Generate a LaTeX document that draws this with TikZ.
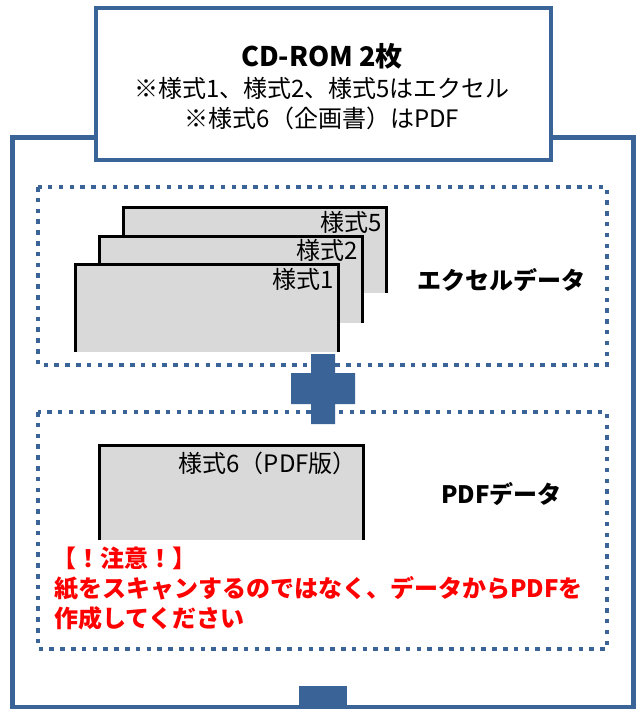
\documentclass[tikz,border=0pt]{standalone}
\usepackage{fontspec}
\setmainfont{Noto Sans CJK JP}
\definecolor{frameblue}{HTML}{3A6397}
\definecolor{sheetgray}{HTML}{D9D9D9}
\definecolor{alertred}{HTML}{FF0000}
\begin{document}
\begin{tikzpicture}[x=1pt,y=-1pt,
  framebox/.style={draw=frameblue,line width=4.5pt},
  dotbox/.style={draw=frameblue,line width=4pt,dash pattern=on 4.5pt off 6.3pt},
  sheetfill/.style={fill=sheetgray},
  sheetedge/.style={draw=black,line width=3pt},
  txt/.style={inner sep=0pt,font=\fontsize{24}{30}\selectfont},
  boldtxt/.style={inner sep=0pt,font=\fontsize{24}{30}\selectfont\bfseries},
  redtxt/.style={inner sep=0pt,align=left,text=alertred,font=\fontsize{24}{30}\selectfont\bfseries}
]
\useasboundingbox (0,0) rectangle (637,709);
% outer frame
\draw[framebox] (12.5,137.5) rectangle (633.5,707);
% CD-ROM box
\draw[framebox,fill=white] (96,8) rectangle (551,160);
\node[boldtxt,font=\fontsize{27}{30}\selectfont\bfseries] (title) at (322,56) {CD-ROM 2枚};
\node[txt] (line2) at (322,88) {※様式1、様式2、様式5はエクセル};
\node[txt] (line3) at (322,118) {※様式6（企画書）はPDF};
% dotted boxes
\draw[dotbox] (38,187) rectangle (607,365);
\draw[dotbox] (38,412) rectangle (607,649);
% sheets (Excel)
\fill[sheetfill] (122,206) rectangle (388,293);
\draw[sheetedge] (123.5,293) -- (123.5,207.5) -- (386.5,207.5) -- (386.5,293);
\node[txt,anchor=east] (s5) at (382,222) {様式5};
\fill[sheetfill] (98,235) rectangle (364,323);
\draw[sheetedge] (99.5,323) -- (99.5,236.5) -- (362.5,236.5) -- (362.5,323);
\node[txt,anchor=east] (s2) at (358,250) {様式2};
\fill[sheetfill] (74,263) rectangle (340,352);
\draw[sheetedge] (75.5,352) -- (75.5,264.5) -- (338.5,264.5) -- (338.5,352);
\node[txt,anchor=east] (s1) at (334,279) {様式1};
\node[boldtxt,anchor=west] (excel) at (417,280) {エクセルデータ};
% PDF sheet
\fill[sheetfill] (98,444) rectangle (365,540);
\draw[sheetedge] (99.5,540) -- (99.5,445.5) -- (363.5,445.5) -- (363.5,540);
\node[txt,anchor=east] (s6) at (357,463) {様式6（PDF版）};
\node[boldtxt,anchor=west] (pdf) at (441,494) {PDFデータ};
% warning
\node[redtxt,anchor=west] (warn1) at (52,558) {【！注意！】};
\node[redtxt,anchor=west] (warn2) at (54,588) {紙をスキャンするのではなく、データからPDFを};
\node[redtxt,anchor=west] (warn3) at (54,618) {作成してください};
% plus sign
\fill[frameblue] (311,354) -- (335,354) -- (335,373) -- (355,373) -- (355,404) -- (335,404) -- (335,424) -- (311,424) -- (311,404) -- (291,404) -- (291,373) -- (311,373) -- cycle;
% bottom tab
\fill[frameblue] (299,686) rectangle (347,707);
\end{tikzpicture}
\end{document}
